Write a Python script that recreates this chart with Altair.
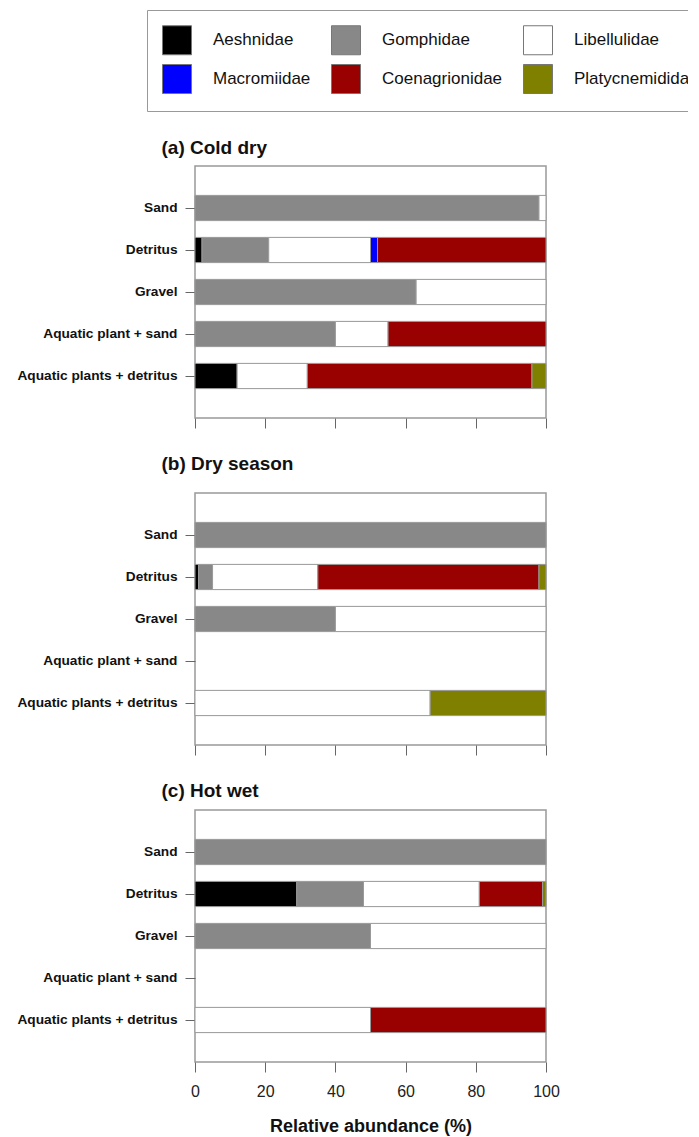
import altair as alt
import pandas as pd

substrates = ["Sand", "Detritus", "Gravel", "Aquatic plant + sand", "Aquatic plants + detritus"]
families = ["Aeshnidae", "Gomphidae", "Libellulidae", "Macromiidae", "Coenagrionidae", "Platycnemididae"]
family_colors = ["#000000", "#888888", "#ffffff", "#0000ff", "#990000", "#808000"]
panel_titles = ["(a) Cold dry", "(b) Dry season", "(c) Hot wet"]

# Relative abundance (%) per substrate, in the order of `substrates`
cold_aeshnidae = [0, 2, 0, 0, 12]
cold_gomphidae = [98, 19, 63, 40, 0]
cold_libellulidae = [2, 29, 37, 15, 20]
cold_macromiidae = [0, 2, 0, 0, 0]
cold_coenagrionidae = [0, 48, 0, 45, 64]
cold_platycnemididae = [0, 0, 0, 0, 4]

dry_aeshnidae = [0, 1, 0, 0, 0]
dry_gomphidae = [100, 4, 40, 0, 0]
dry_libellulidae = [0, 30, 60, 0, 67]
dry_macromiidae = [0, 0, 0, 0, 0]
dry_coenagrionidae = [0, 63, 0, 0, 0]
dry_platycnemididae = [0, 2, 0, 0, 33]

hot_aeshnidae = [0, 29, 0, 0, 0]
hot_gomphidae = [100, 19, 50, 0, 0]
hot_libellulidae = [0, 33, 50, 0, 50]
hot_macromiidae = [0, 0, 0, 0, 0]
hot_coenagrionidae = [0, 18, 0, 0, 50]
hot_platycnemididae = [0, 1, 0, 0, 0]

panels = [
    [cold_aeshnidae, cold_gomphidae, cold_libellulidae, cold_macromiidae, cold_coenagrionidae, cold_platycnemididae],
    [dry_aeshnidae, dry_gomphidae, dry_libellulidae, dry_macromiidae, dry_coenagrionidae, dry_platycnemididae],
    [hot_aeshnidae, hot_gomphidae, hot_libellulidae, hot_macromiidae, hot_coenagrionidae, hot_platycnemididae],
]

FONT = "Liberation Sans"
title_offsets = [13, 24, 14]


def panel_df(series):
    rows = []
    for fi, (fam, vals) in enumerate(zip(families, series)):
        for sub, v in zip(substrates, vals):
            if v > 0:
                rows.append({"substrate": sub, "family": fam, "value": v, "idx": fi})
    return pd.DataFrame(rows)


charts = []
for i, series in enumerate(panels):
    last = i == len(panels) - 1
    xaxis = alt.Axis(
        values=[0, 20, 40, 60, 80, 100],
        labels=last,
        title="Relative abundance (%)" if last else None,
        domain=False,
        grid=False,
        ticks=True,
        tickSize=10,
        tickColor="#666666",
        labelFont=FONT,
        labelFontSize=16,
        labelColor="#222222",
        labelPadding=11,
        labelFlush=False,
        titleFont=FONT,
        titleFontSize=18,
        titleFontWeight="bold",
        titleColor="#111111",
        titlePadding=18,
    )
    yaxis = alt.Axis(
        title=panel_titles[i],
        titleAngle=0,
        titleAlign="left",
        titleBaseline="alphabetic",
        titleX=-34,
        titleY=-title_offsets[i],
        titleFont=FONT,
        titleFontSize=19,
        titleFontWeight="bold",
        titleColor="#111111",
        domain=False,
        grid=False,
        tickSize=10,
        tickColor="#666666",
        labelFont=FONT,
        labelFontSize=13.7,
        labelFontWeight="bold",
        labelColor="#111111",
        labelPadding=8,
        labelLimit=300,
    )
    if i == 0:
        legend = alt.Legend(
            title=None,
            orient="none",
            legendX=-48,
            legendY=-156,
            columns=3,
            direction="horizontal",
            symbolType="square",
            symbolSize=841,
            symbolStrokeColor="#777777",
            symbolStrokeWidth=1,
            labelFont=FONT,
            labelFontSize=17,
            labelColor="#111111",
            labelOffset=21,
            labelLimit=300,
            columnPadding=18,
            rowPadding=5,
            padding=15,
            strokeColor="#999999",
            fillColor="#ffffff",
            cornerRadius=0,
        )
    else:
        legend = None
    ch = (
        alt.Chart(panel_df(series))
        .mark_bar(stroke="#999999", strokeWidth=1)
        .encode(
            x=alt.X("value:Q", stack="zero", scale=alt.Scale(domain=[0, 100], nice=False), axis=xaxis),
            y=alt.Y(
                "substrate:N",
                sort=substrates,
                scale=alt.Scale(domain=substrates, paddingInner=0.4, paddingOuter=0.7),
                axis=yaxis,
            ),
            color=alt.Color(
                "family:N",
                scale=alt.Scale(domain=families, range=family_colors),
                legend=legend,
            ),
            order=alt.Order("idx:Q"),
        )
        .properties(width=351, height=252)
    )
    charts.append(ch)

chart = (
    alt.vconcat(*charts, spacing=23)
    .resolve_scale(color="independent")
    .properties(padding={"left": 8, "top": 0, "right": -28, "bottom": 0})
    .configure_view(stroke="#999999", strokeWidth=1.5)
)

chart.save("out.html", embed_options={"renderer": "svg", "actions": False})
